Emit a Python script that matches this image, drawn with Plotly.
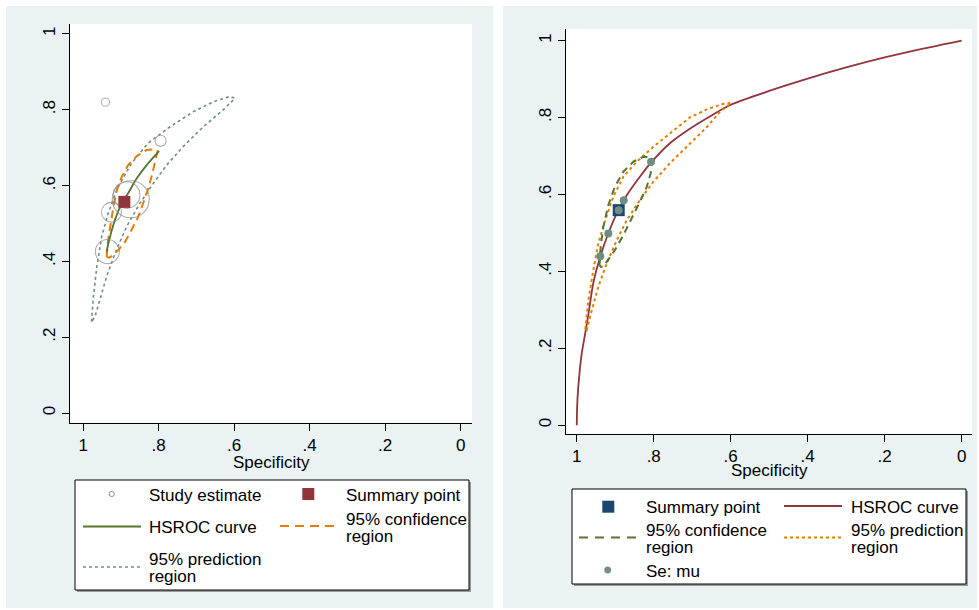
import plotly.graph_objects as go

# ---------------- data ----------------
tick_vals = [0, 0.2, 0.4, 0.6, 0.8, 1]
tick_text = ["0", ".2", ".4", ".6", ".8", "1"]

# Left panel
L_study_spec = [0.941, 0.795, 0.874, 0.885, 0.925, 0.936]
L_study_sens = [0.820, 0.718, 0.564, 0.575, 0.530, 0.426]
L_study_weight = [0.22, 0.30, 1.00, 0.72, 0.54, 0.65]

L_summary_spec = [0.891]
L_summary_sens = [0.557]

L_hsroc_spec = [0.938, 0.929, 0.916, 0.898, 0.881, 0.858, 0.832, 0.799]
L_hsroc_sens = [0.426, 0.465, 0.509, 0.553, 0.580, 0.619, 0.654, 0.691]

L_ci_spec = [0.938, 0.934, 0.927, 0.920, 0.911, 0.898, 0.881, 0.858, 0.832, 0.810, 0.803,
             0.810, 0.819, 0.829, 0.841, 0.854, 0.872, 0.889, 0.907, 0.920, 0.931, 0.938]
L_ci_sens = [0.412, 0.456, 0.500, 0.544, 0.588, 0.623, 0.654, 0.678, 0.694, 0.696, 0.691,
             0.659, 0.623, 0.588, 0.553, 0.518, 0.483, 0.452, 0.430, 0.417, 0.410, 0.412]

L_pi_spec = [0.978, 0.973, 0.964, 0.951, 0.934, 0.907, 0.872, 0.828, 0.770, 0.708, 0.655, 0.611, 0.598,
             0.629, 0.682, 0.735, 0.779, 0.814, 0.850, 0.885, 0.916, 0.938, 0.956, 0.969, 0.978]
L_pi_sens = [0.241, 0.307, 0.386, 0.465, 0.527, 0.597, 0.659, 0.712, 0.755, 0.795, 0.821, 0.835, 0.830,
             0.800, 0.755, 0.703, 0.654, 0.606, 0.553, 0.492, 0.421, 0.360, 0.298, 0.254, 0.241]

# Right panel
R_summary_spec = [0.891]
R_summary_sens = [0.559]

R_mu_spec = [0.807, 0.878, 0.891, 0.918, 0.939]
R_mu_sens = [0.685, 0.585, 0.559, 0.498, 0.439]

R_hsroc_spec = [1.000, 0.999, 0.996, 0.987, 0.978, 0.968, 0.957, 0.939, 0.918, 0.892, 0.870, 0.836,
                0.805, 0.758, 0.710, 0.650, 0.600, 0.500, 0.400, 0.300, 0.200, 0.100, 0.000]
R_hsroc_sens = [0.000, 0.050, 0.100, 0.187, 0.239, 0.300, 0.370, 0.438, 0.499, 0.559, 0.598, 0.646,
                0.685, 0.733, 0.768, 0.805, 0.833, 0.869, 0.901, 0.930, 0.956, 0.979, 1.000]

R_ci_spec = [0.941, 0.938, 0.931, 0.918, 0.901, 0.879, 0.853, 0.827, 0.811, 0.804,
             0.808, 0.818, 0.836, 0.857, 0.879, 0.901, 0.918, 0.931, 0.938, 0.941]
R_ci_sens = [0.416, 0.464, 0.516, 0.572, 0.620, 0.659, 0.685, 0.698, 0.697, 0.685,
             0.655, 0.620, 0.581, 0.538, 0.494, 0.455, 0.429, 0.412, 0.412, 0.416]

R_pi_spec = [0.978, 0.970, 0.957, 0.944, 0.926, 0.905, 0.879, 0.844, 0.801, 0.758, 0.706, 0.660, 0.620, 0.599,
             0.630, 0.662, 0.706, 0.758, 0.801, 0.836, 0.870, 0.896, 0.922, 0.944, 0.961, 0.974, 0.978]
R_pi_sens = [0.249, 0.325, 0.403, 0.473, 0.533, 0.594, 0.646, 0.685, 0.724, 0.759, 0.800, 0.822, 0.835, 0.838,
             0.812, 0.775, 0.733, 0.681, 0.633, 0.585, 0.533, 0.481, 0.421, 0.360, 0.299, 0.247, 0.249]

# ---------------- styling ----------------
W, H = 979, 610
BG = "#EAF2F3"
NAVY = "#1A476F"
MAROON = "#90353B"
GREEN = "#55752F"
ORANGE = "#E37E00"
TEAL = "#6E8E84"
FONT = "Liberation Sans, Arial, sans-serif"


def px(x):
    return x / W


def py(y):
    return 1 - y / H


fig = go.Figure()

# ----- left panel traces -----
fig.add_trace(go.Scatter(x=L_pi_spec, y=L_pi_sens, mode="lines", xaxis="x", yaxis="y",
                         line=dict(color=TEAL, width=1.6, dash="3px,3px"), name="95% prediction region"))
fig.add_trace(go.Scatter(x=L_ci_spec, y=L_ci_sens, mode="lines", xaxis="x", yaxis="y",
                         line=dict(color=ORANGE, width=2, dash="8px,5px"), name="95% confidence region"))
fig.add_trace(go.Scatter(x=L_hsroc_spec, y=L_hsroc_sens, mode="lines", xaxis="x", yaxis="y",
                         line=dict(color=GREEN, width=1.8, shape="spline"), name="HSROC curve"))
fig.add_trace(go.Scatter(x=L_study_spec, y=L_study_sens, mode="markers", xaxis="x", yaxis="y",
                         marker=dict(symbol="circle-open", size=[37 * w for w in L_study_weight],
                                     color="#8C8C8C", line=dict(width=1.1, color="#8C8C8C")),
                         name="Study estimate"))
fig.add_trace(go.Scatter(x=L_summary_spec, y=L_summary_sens, mode="markers", xaxis="x", yaxis="y",
                         marker=dict(symbol="square", size=12, color=MAROON), name="Summary point"))

# ----- right panel traces -----
fig.add_trace(go.Scatter(x=R_hsroc_spec, y=R_hsroc_sens, mode="lines", xaxis="x2", yaxis="y2",
                         line=dict(color=MAROON, width=1.8, shape="spline", smoothing=0.8), name="HSROC curve"))
fig.add_trace(go.Scatter(x=R_pi_spec, y=R_pi_sens, mode="lines", xaxis="x2", yaxis="y2",
                         line=dict(color=ORANGE, width=2, dash="3px,3px"), name="95% prediction region"))
fig.add_trace(go.Scatter(x=R_ci_spec, y=R_ci_sens, mode="lines", xaxis="x2", yaxis="y2",
                         line=dict(color=GREEN, width=2, dash="7px,5px"), name="95% confidence region"))
fig.add_trace(go.Scatter(x=R_summary_spec, y=R_summary_sens, mode="markers", xaxis="x2", yaxis="y2",
                         marker=dict(symbol="square", size=12, color=NAVY), name="Summary point"))
fig.add_trace(go.Scatter(x=R_mu_spec, y=R_mu_sens, mode="markers", xaxis="x2", yaxis="y2",
                         marker=dict(symbol="circle", size=8, color=TEAL), name="Se: mu"))

axis_common = dict(showgrid=False, zeroline=False, showline=True, linecolor="black", linewidth=1,
                   ticks="outside", ticklen=7, tickcolor="black", tickwidth=1,
                   tickvals=tick_vals, ticktext=tick_text,
                   tickfont=dict(family=FONT, size=17, color="black"), fixedrange=True)

fig.update_layout(
    width=W, height=H,
    margin=dict(l=0, r=0, t=0, b=0),
    paper_bgcolor="white", plot_bgcolor="white",
    showlegend=False,
    font=dict(family=FONT, size=17, color="black"),
    xaxis=dict(domain=[px(70), px(472)], range=[1.035, -0.030], anchor="y", **axis_common),
    yaxis=dict(domain=[py(423), py(24)], range=[-0.026, 1.026], anchor="x", tickangle=-90, **axis_common),
    xaxis2=dict(domain=[px(566), px(972)], range=[1.028, -0.027], anchor="y2", **axis_common),
    yaxis2=dict(domain=[py(434), py(29)], range=[-0.023, 1.030], anchor="x2", tickangle=-90, **axis_common),
)

shapes = []


def rect(x0, y0, x1, y1, fill, line_color=None, lw=0):
    shapes.append(dict(type="rect", xref="paper", yref="paper", x0=px(x0), x1=px(x1), y0=py(y1), y1=py(y0),
                       fillcolor=fill, line=dict(width=lw, color=line_color or fill), layer="below"))


def hline(x0, x1, y, color, width, dash="solid"):
    shapes.append(dict(type="line", xref="paper", yref="paper", x0=px(x0), x1=px(x1), y0=py(y), y1=py(y),
                       line=dict(color=color, width=width, dash=dash), layer="below"))


def circ(cx, cy, r, fill, line_color, lw=1):
    shapes.append(dict(type="circle", xref="paper", yref="paper", x0=px(cx - r), x1=px(cx + r),
                       y0=py(cy + r), y1=py(cy - r), fillcolor=fill, line=dict(color=line_color, width=lw),
                       layer="below"))


# panel backgrounds and plot regions
rect(6, 6, 493, 608, BG)
rect(503, 6, 977, 608, BG)
rect(70, 24, 472, 423, "white")
rect(566, 29, 972, 434, "white")

# legend boxes
rect(77, 482, 471, 592, "#9A9A9A")
rect(75, 480, 469, 590, "white", "black", 1)
rect(574, 491, 968, 586, "#9A9A9A")
rect(572, 489, 966, 584, "white", "black", 1)

# left legend samples
circ(111.7, 494, 2.6, "white", "#8C8C8C", 1)
rect(302.3, 488, 314.3, 500, MAROON)
hline(83, 141, 526.5, GREEN, 1.8)
hline(280, 338, 526, ORANGE, 2, "9px,6px")
hline(83, 141, 567, TEAL, 1.6, "3px,3px")

# right legend samples
rect(602.3, 500.7, 614.3, 512.7, NAVY)
hline(784, 842, 506, MAROON, 1.8)
hline(579, 638, 537.5, GREEN, 2, "9px,7px")
hline(784, 843, 537.5, ORANGE, 2, "3px,3px")
circ(607.7, 570, 3.2, TEAL, TEAL, 0.5)

annotations = []


def text(x, y, s, anchor="left"):
    annotations.append(dict(x=px(x), y=py(y), xref="paper", yref="paper", text=s, showarrow=False,
                            xanchor=anchor, yanchor="middle", borderpad=0, borderwidth=0,
                            font=dict(family=FONT, size=17, color="black")))


# legend texts
text(149, 495, "Study estimate")
text(345.5, 495, "Summary point")
text(149, 527, "HSROC curve")
text(345.5, 519, "95% confidence")
text(345.5, 536, "region")
text(149, 559, "95% prediction")
text(149, 576, "region")

text(645.5, 507, "Summary point")
text(850.5, 507, "HSROC curve")
text(645.5, 530, "95% confidence")
text(645.5, 547, "region")
text(850.5, 530, "95% prediction")
text(850.5, 547, "region")
text(645.5, 571, "Se: mu")

# axis titles
text(271, 462, "Specificity", "center")
text(769, 471, "Specificity", "center")

fig.update_layout(shapes=shapes, annotations=annotations)

fig.write_html(
    "out.html",
    config={"displayModeBar": False},
    post_script="document.body.style.margin='0';document.body.style.overflow='hidden';"
                "document.documentElement.style.overflow='hidden';",
)
